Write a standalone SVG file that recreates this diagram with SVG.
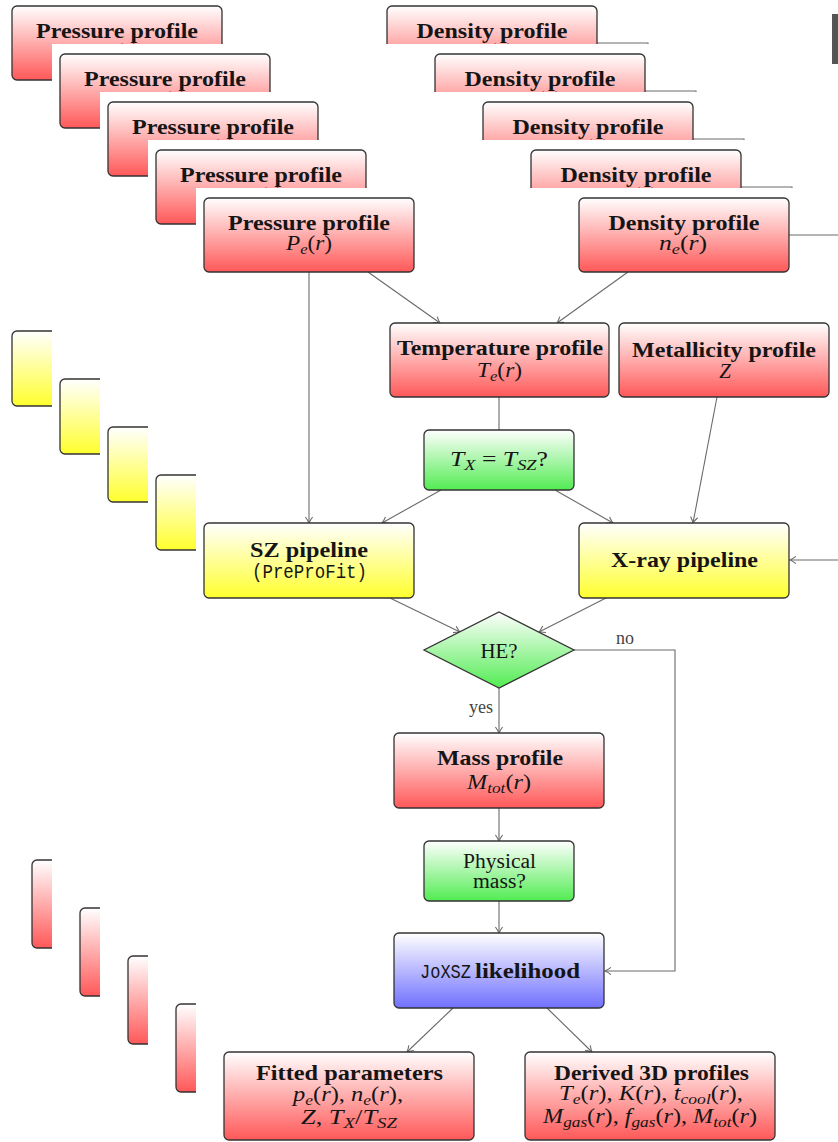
<svg xmlns="http://www.w3.org/2000/svg" xmlns:xlink="http://www.w3.org/1999/xlink" width="838" height="1142" viewBox="0 0 838 1142">
  <style>
    .box { stroke: #333; stroke-width: 1.3; }
    .red { fill: url(#gRed); }
    .yel { fill: url(#gYel); }
    .grn { fill: url(#gGrn); }
    .blu { fill: url(#gBlu); }
    .edge { fill: none; stroke: #6a6a6a; stroke-width: 1.1; }
    .arr { marker-end: url(#tip); }
    .t { font-family: "Liberation Serif", "DejaVu Serif", serif; font-weight: bold; font-size: 21px; fill: #151515; text-anchor: middle; }
    .m { font-family: "Liberation Serif", "DejaVu Serif", serif; font-size: 21px; fill: #151515; text-anchor: middle; }
    .w { font-size: 20px; }
    .i { font-style: italic; }
    .s { font-style: italic; font-size: 15px; }
    .tt { font-family: "Liberation Mono", "DejaVu Sans Mono", monospace; font-size: 20px; fill: #151515; }
    .lbl { font-family: "Liberation Serif", "DejaVu Serif", serif; font-size: 18px; fill: #444; text-anchor: middle; }
  </style>
  <defs>
    <linearGradient id="gRed" x1="0" y1="0" x2="0" y2="1">
      <stop offset="0" stop-color="#ffffff"/>
      <stop offset="1" stop-color="#ff5858"/>
    </linearGradient>
    <linearGradient id="gYel" x1="0" y1="0" x2="0" y2="1">
      <stop offset="0" stop-color="#ffffff"/>
      <stop offset="1" stop-color="#ffff2e"/>
    </linearGradient>
    <linearGradient id="gGrn" x1="0" y1="0" x2="0" y2="1">
      <stop offset="0" stop-color="#ffffff"/>
      <stop offset="1" stop-color="#52ec52"/>
    </linearGradient>
    <linearGradient id="gBlu" x1="0" y1="0" x2="0" y2="1">
      <stop offset="0" stop-color="#ffffff"/>
      <stop offset="1" stop-color="#7070ff"/>
    </linearGradient>
    <marker id="tip" viewBox="-8 -5 10 10" refX="0" refY="0" markerWidth="10" markerHeight="10" markerUnits="userSpaceOnUse" orient="auto">
      <path d="M-6,-3.6 Q-2.5,-1 0,0 Q-2.5,1 -6,3.6" fill="none" stroke="#6a6a6a" stroke-width="1.1"/>
    </marker>
  </defs>

  <rect x="0" y="0" width="838" height="1142" fill="#ffffff"/>

  <!-- earlier sheets stacked behind, each shifted up and left -->
  <g id="stack">
    <use href="#sheet" xlink:href="#sheet" transform="translate(-192,-192)"/>
    <use href="#sheet" xlink:href="#sheet" transform="translate(-144,-144)"/>
    <use href="#sheet" xlink:href="#sheet" transform="translate(-96,-96)"/>
    <use href="#sheet" xlink:href="#sheet" transform="translate(-48,-48)"/>
  </g>

  <g id="sheet">
    <rect x="196" y="188" width="1000" height="1100" fill="#ffffff"/>

    <g id="connectors">
      <path class="edge arr" d="M309,272 V523"/>
      <path class="edge arr" d="M368,272 L440,323"/>
      <path class="edge arr" d="M628,272 L557,323"/>
      <path class="edge" d="M499,397 V430"/>
      <path class="edge arr" d="M717,397 L693,523"/>
      <path class="edge arr" d="M441,490 L382,523"/>
      <path class="edge arr" d="M555,490 L613,523"/>
      <path class="edge arr" d="M789,235 H840 V560 H790"/>
      <path class="edge arr" d="M390,598 L460,632"/>
      <path class="edge arr" d="M606,598 L539,632"/>
      <path class="edge arr" d="M499,688 V733"/>
      <path class="edge arr" d="M574,650 H675 V971 H605"/>
      <path class="edge arr" d="M499,808 V841"/>
      <path class="edge arr" d="M499,901 V933"/>
      <path class="edge arr" d="M453,1008 L407,1052"/>
      <path class="edge arr" d="M547,1008 L592,1052"/>
      <text class="lbl" x="625" y="644">no</text>
      <text class="lbl" x="481" y="713">yes</text>
    </g>

    <g id="pressure">
      <rect class="box red" x="204" y="198" width="210" height="74" rx="5"/>
      <text class="t" x="309" y="230" textLength="162" lengthAdjust="spacingAndGlyphs">Pressure profile</text>
      <text class="m" x="309" y="250" textLength="46" lengthAdjust="spacingAndGlyphs"><tspan class="i">P</tspan><tspan class="s" dy="4">e</tspan><tspan dy="-4">(</tspan><tspan class="i">r</tspan>)</text>
    </g>

    <g id="density">
      <rect class="box red" x="579" y="198" width="210" height="74" rx="5"/>
      <text class="t" x="684" y="230" textLength="151" lengthAdjust="spacingAndGlyphs">Density profile</text>
      <text class="m" x="683" y="250" textLength="48" lengthAdjust="spacingAndGlyphs"><tspan class="i">n</tspan><tspan class="s" dy="4">e</tspan><tspan dy="-4">(</tspan><tspan class="i">r</tspan>)</text>
    </g>

    <g id="temperature">
      <rect class="box red" x="390" y="323" width="219" height="74" rx="5"/>
      <text class="t" x="500" y="355" textLength="206" lengthAdjust="spacingAndGlyphs">Temperature profile</text>
      <text class="m" x="499.5" y="377" textLength="45" lengthAdjust="spacingAndGlyphs"><tspan class="i">T</tspan><tspan class="s" dy="4">e</tspan><tspan dy="-4">(</tspan><tspan class="i">r</tspan>)</text>
    </g>

    <g id="metallicity">
      <rect class="box red" x="619" y="323" width="210" height="74" rx="5"/>
      <text class="t" x="724" y="357" textLength="184" lengthAdjust="spacingAndGlyphs">Metallicity profile</text>
      <text class="m" x="725" y="378"><tspan class="i">Z</tspan></text>
    </g>

    <g id="tx-tsz">
      <rect class="box grn" x="424" y="430" width="150" height="60" rx="5"/>
      <text class="m" x="499" y="466" textLength="98" lengthAdjust="spacingAndGlyphs"><tspan class="i">T</tspan><tspan class="s" dy="4">X</tspan><tspan dy="-4"> = </tspan><tspan class="i">T</tspan><tspan class="s" dy="4">SZ</tspan><tspan dy="-4">?</tspan></text>
    </g>

    <g id="sz-pipeline">
      <rect class="box yel" x="204" y="523" width="210" height="75" rx="5"/>
      <text class="t" x="309" y="557" textLength="118" lengthAdjust="spacingAndGlyphs">SZ pipeline</text>
      <text class="tt" x="309.5" y="578" text-anchor="middle" textLength="115" lengthAdjust="spacingAndGlyphs">(PreProFit)</text>
    </g>

    <g id="xray-pipeline">
      <rect class="box yel" x="579" y="523" width="210" height="75" rx="5"/>
      <text class="t" x="684.5" y="567" textLength="147" lengthAdjust="spacingAndGlyphs">X-ray pipeline</text>
    </g>

    <g id="he">
      <polygon class="box grn" points="499,612 574,650 499,688 424,650"/>
      <text class="m w" x="499" y="658" textLength="37" lengthAdjust="spacingAndGlyphs">HE?</text>
    </g>

    <g id="mass">
      <rect class="box red" x="394" y="733" width="210" height="75" rx="5"/>
      <text class="t" x="500" y="765" textLength="126" lengthAdjust="spacingAndGlyphs">Mass profile</text>
      <text class="m" x="499" y="789" textLength="64" lengthAdjust="spacingAndGlyphs"><tspan class="i">M</tspan><tspan class="s" dy="4">tot</tspan><tspan dy="-4">(</tspan><tspan class="i">r</tspan>)</text>
    </g>

    <g id="physical">
      <rect class="box grn" x="424" y="841" width="150" height="60" rx="5"/>
      <text class="m w" x="499.5" y="868" textLength="73" lengthAdjust="spacingAndGlyphs">Physical</text>
      <text class="m w" x="499.5" y="888" textLength="53" lengthAdjust="spacingAndGlyphs">mass?</text>
    </g>

    <g id="likelihood">
      <rect class="box blu" x="394" y="933" width="210" height="75" rx="5"/>
      <text class="tt" x="420" y="978" textLength="51" lengthAdjust="spacingAndGlyphs">JoXSZ</text>
      <text class="t" x="527.5" y="978" textLength="105" lengthAdjust="spacingAndGlyphs">likelihood</text>
    </g>

    <g id="fitted">
      <rect class="box red" x="224" y="1052" width="250" height="88" rx="5"/>
      <text class="t" x="349.5" y="1080" textLength="187" lengthAdjust="spacingAndGlyphs">Fitted parameters</text>
      <text class="m" x="348" y="1101" textLength="110" lengthAdjust="spacingAndGlyphs"><tspan class="i">p</tspan><tspan class="s" dy="4">e</tspan><tspan dy="-4">(</tspan><tspan class="i">r</tspan>), <tspan class="i">n</tspan><tspan class="s" dy="4">e</tspan><tspan dy="-4">(</tspan><tspan class="i">r</tspan>),</text>
      <text class="m" x="349" y="1124" textLength="96" lengthAdjust="spacingAndGlyphs"><tspan class="i">Z</tspan>, <tspan class="i">T</tspan><tspan class="s" dy="4">X</tspan><tspan dy="-4">/</tspan><tspan class="i">T</tspan><tspan class="s" dy="4">SZ</tspan></text>
    </g>

    <g id="derived">
      <rect class="box red" x="525" y="1052" width="250" height="88" rx="5"/>
      <text class="t" x="651.5" y="1080" textLength="195" lengthAdjust="spacingAndGlyphs">Derived 3D profiles</text>
      <text class="m" x="651" y="1100" textLength="184" lengthAdjust="spacingAndGlyphs"><tspan class="i">T</tspan><tspan class="s" dy="4">e</tspan><tspan dy="-4">(</tspan><tspan class="i">r</tspan>), <tspan class="i">K</tspan>(<tspan class="i">r</tspan>), <tspan class="i">t</tspan><tspan class="s" dy="4">cool</tspan><tspan dy="-4">(</tspan><tspan class="i">r</tspan>),</text>
      <text class="m" x="650" y="1123" textLength="214" lengthAdjust="spacingAndGlyphs"><tspan class="i">M</tspan><tspan class="s" dy="4">gas</tspan><tspan dy="-4">(</tspan><tspan class="i">r</tspan>), <tspan class="i">f</tspan><tspan class="s" dy="4">gas</tspan><tspan dy="-4">(</tspan><tspan class="i">r</tspan>), <tspan class="i">M</tspan><tspan class="s" dy="4">tot</tspan><tspan dy="-4">(</tspan><tspan class="i">r</tspan>)</text>
    </g>
  </g>

  <rect id="edge-bar" x="832" y="14" width="6" height="50" fill="#555555"/>
</svg>
